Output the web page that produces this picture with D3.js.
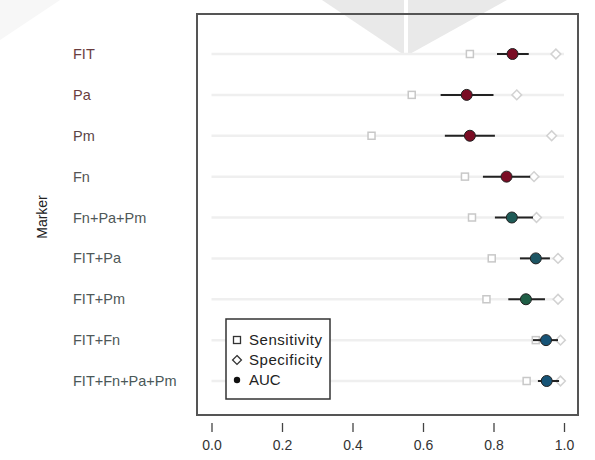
<!DOCTYPE html>
<html><head><meta charset="utf-8">
<script src="https://cdn.jsdelivr.net/npm/d3@7"></script>
<style>body{margin:0;background:#fff}svg{display:block}</style>
</head><body><svg id="c" width="595" height="460"></svg>
<script>
const markers = ["FIT","Pa","Pm","Fn","Fn+Pa+Pm","FIT+Pa","FIT+Pm","FIT+Fn","FIT+Fn+Pa+Pm"];
const sensitivity = [0.733,0.568,0.454,0.719,0.739,0.795,0.780,0.920,0.894];
const specificity = [0.977,0.866,0.965,0.915,0.922,0.983,0.983,0.990,0.990];
const auc = [0.854,0.724,0.733,0.837,0.852,0.920,0.892,0.949,0.951];
const aucLow = [0.810,0.650,0.662,0.770,0.804,0.875,0.842,0.912,0.926];
const aucHigh = [0.900,0.800,0.804,0.904,0.912,0.960,0.946,0.983,0.986];
const pointColors = ["#7a0c24","#7a0c24","#7a0c24","#7a0c24","#1f5b57","#1c5563","#1f5e46","#175477","#175477"];
const labelColors = ["#6a3d40","#6a3d40","#5a4446","#555555","#4f5858","#4f5858","#4f5858","#4f5858","#4a5858"];
const xTicks = [0,0.2,0.4,0.6,0.8,1.0];
const legendItems = ["Sensitivity","Specificity","AUC"];

const svg = d3.select("#c");
const font = "'Liberation Sans', Arial, sans-serif";
const box = {l:197, r:578, t:14, b:415};
const x = d3.scaleLinear().domain([0,1]).range([211.5,564]);
const y = d3.scalePoint().domain(markers).range([54,381]);

// watermark shapes
svg.append("polygon").attr("points","0,0 60,0 0,40").attr("fill","#f7f7f7");
svg.append("polygon").attr("points","322,0 404,0 404,55").attr("fill","#e9e9e9");
svg.append("polygon").attr("points","408,0 507,0 408,55").attr("fill","#e9e9e9");

// background lines
svg.append("g").selectAll("line").data(markers).join("line")
  .attr("x1",x(0)).attr("x2",x(1))
  .attr("y1",d=>y(d)).attr("y2",d=>y(d))
  .attr("stroke","#efefef").attr("stroke-width",2.5);

// plot box
svg.append("rect").attr("x",box.l).attr("y",box.t).attr("width",box.r-box.l).attr("height",box.b-box.t)
  .attr("fill","none").attr("stroke","#555").attr("stroke-width",2);

// x axis
const ax = svg.append("g").attr("transform",`translate(0,${box.b+8})`)
  .call(d3.axisBottom(x).tickValues(xTicks).tickFormat(d3.format(".1f")).tickSize(9).tickPadding(8));
ax.select(".domain").remove();
ax.selectAll(".tick line").attr("stroke","#444").attr("stroke-width",1.3);
ax.selectAll("text").attr("font-family",font).attr("font-size",14).attr("fill","#333");

// y labels
svg.append("g").selectAll("text").data(markers).join("text")
  .attr("x",73).attr("y",d=>y(d)).attr("dy","0.35em")
  .attr("font-family",font).attr("font-size",14.5)
  .attr("fill",(d,i)=>labelColors[i]).text(d=>d);

svg.append("text").attr("transform","translate(47,217) rotate(-90)")
  .attr("text-anchor","middle").attr("font-family",font).attr("font-size",14).attr("fill","#222").text("Marker");

// sensitivity squares
svg.append("g").selectAll("rect").data(markers).join("rect")
  .attr("x",(d,i)=>x(sensitivity[i])-3.5).attr("y",d=>y(d)-3.5).attr("width",7).attr("height",7)
  .attr("fill","#fff").attr("stroke","#c8c8c8").attr("stroke-width",1.5);
// specificity diamonds
const sym = d3.symbol().type(d3.symbolDiamond2).size(60);
svg.append("g").selectAll("path").data(markers).join("path")
  .attr("transform",(d,i)=>`translate(${x(specificity[i])},${y(d)})`)
  .attr("d",sym).attr("fill","#fff").attr("stroke","#d2d2d2").attr("stroke-width",1.5);

// AUC CI lines
svg.append("g").selectAll("line").data(markers).join("line")
  .attr("x1",(d,i)=>x(aucLow[i])).attr("x2",(d,i)=>x(aucHigh[i]))
  .attr("y1",d=>y(d)).attr("y2",d=>y(d))
  .attr("stroke","#222").attr("stroke-width",2);
// AUC points
svg.append("g").selectAll("circle").data(markers).join("circle")
  .attr("cx",(d,i)=>x(auc[i])).attr("cy",d=>y(d)).attr("r",5.5)
  .attr("fill",(d,i)=>pointColors[i]).attr("stroke","#222").attr("stroke-width",1);

// legend
const lg = svg.append("g");
lg.append("rect").attr("x",226).attr("y",319).attr("width",104).attr("height",80)
  .attr("fill","#fff").attr("stroke","#333").attr("stroke-width",1.5);
const ly = d3.scalePoint().domain(legendItems).range([340,380]);
lg.selectAll("text").data(legendItems).join("text")
  .attr("x",249).attr("y",d=>ly(d)).attr("dy","0.35em")
  .attr("font-family",font).attr("font-size",15).attr("fill","#222")
  .attr("textLength",d=>d==="AUC"?null:73).text(d=>d);
lg.append("rect").attr("x",233.5).attr("y",ly("Sensitivity")-3.5).attr("width",7).attr("height",7)
  .attr("fill","none").attr("stroke","#333").attr("stroke-width",1.3);
lg.append("path").attr("transform",`translate(237,${ly("Specificity")})`)
  .attr("d",d3.symbol().type(d3.symbolDiamond2).size(50)).attr("fill","none").attr("stroke","#333").attr("stroke-width",1.3);
lg.append("circle").attr("cx",237).attr("cy",ly("AUC")).attr("r",3.2).attr("fill","#111");
</script></body></html>
